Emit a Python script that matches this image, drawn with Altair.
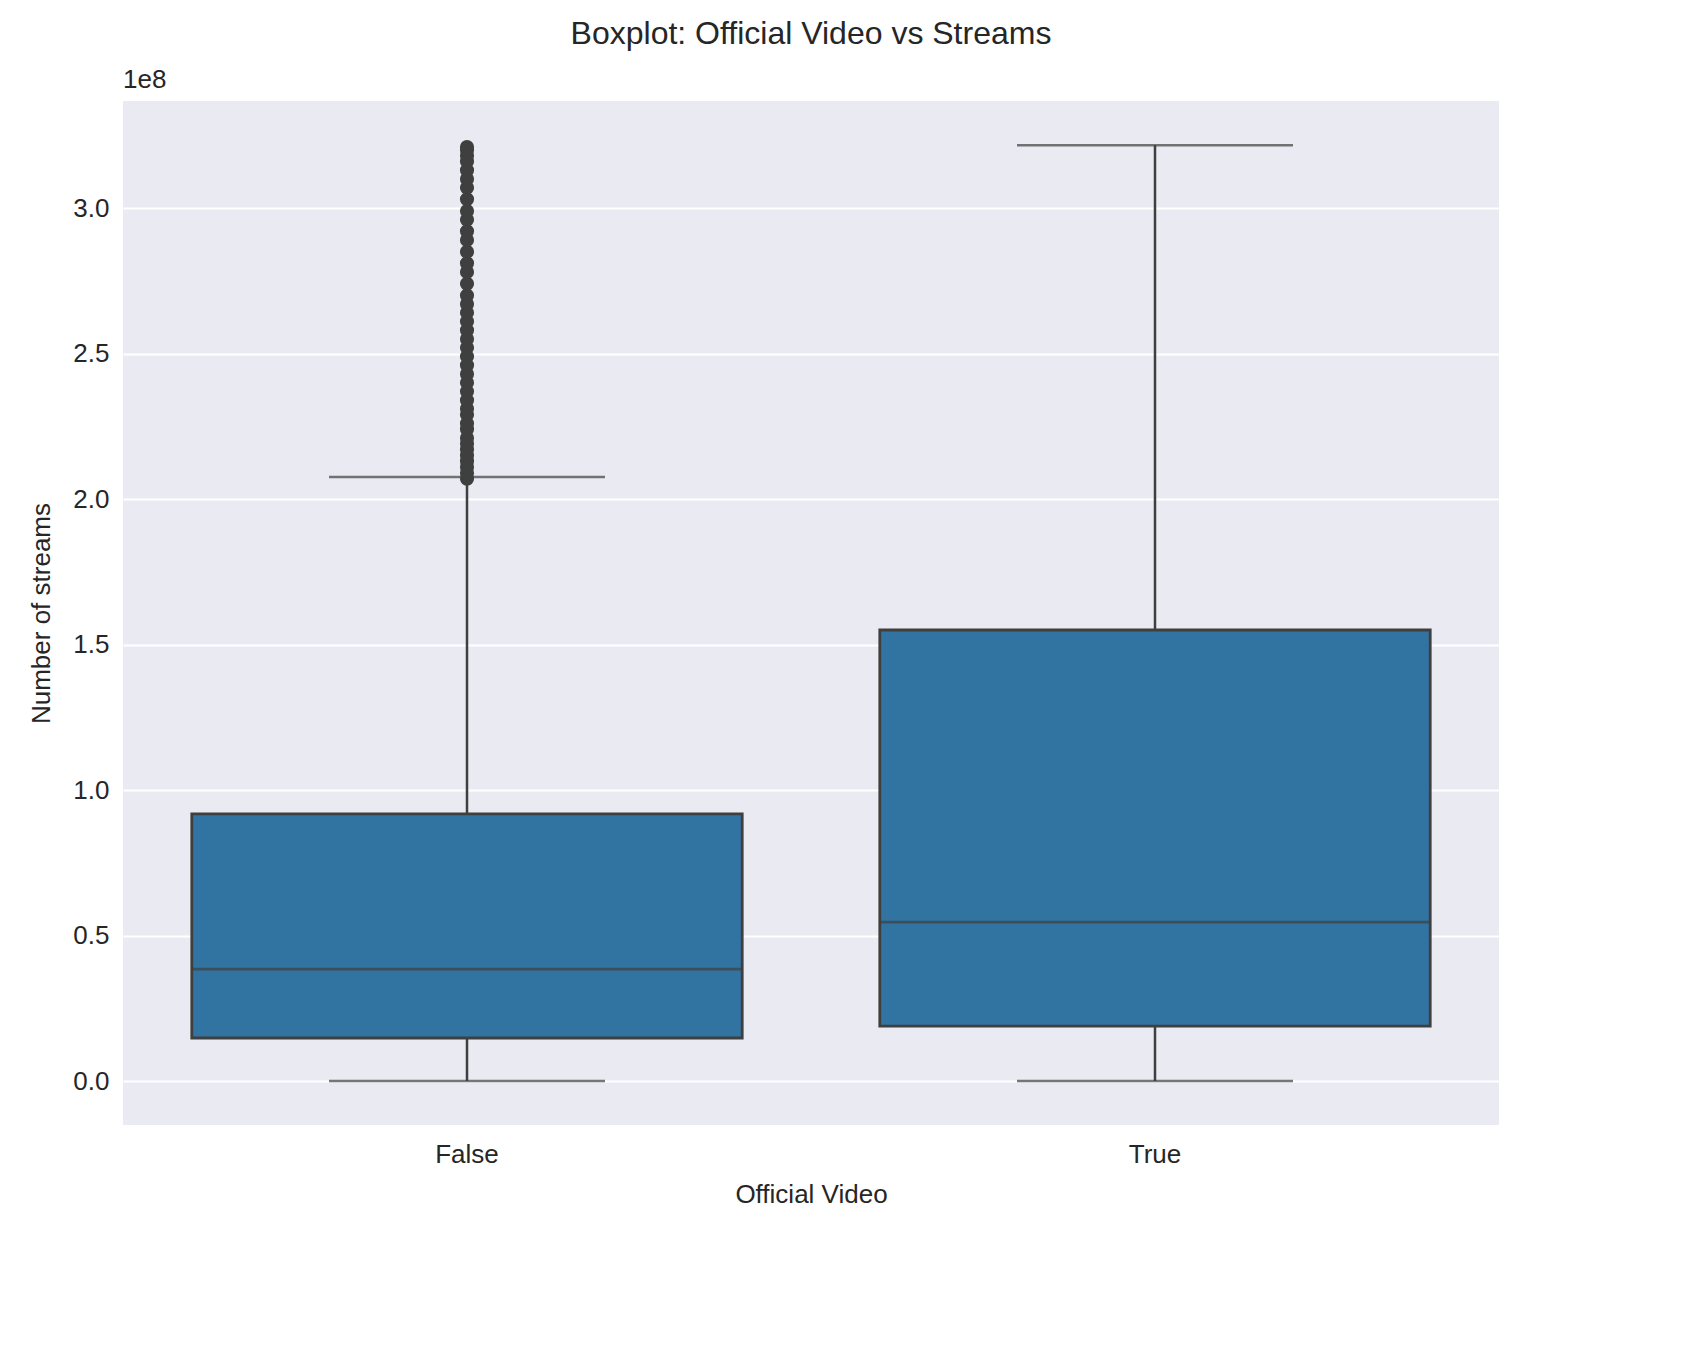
import pandas as pd
import altair as alt

# values in units of 1e8 streams
groups = ['False', 'True']
lower = [0.0, 0.0]
q1 = [0.148, 0.189]
median = [0.385, 0.546]
q3 = [0.918, 1.55]
upper = [2.076, 3.216]

outliers_false = [2.07, 2.09, 2.11, 2.13, 2.15, 2.17, 2.19, 2.21, 2.24, 2.26, 2.29, 2.31,
                  2.34, 2.37, 2.40, 2.43, 2.46, 2.49, 2.52, 2.55, 2.58, 2.61, 2.64, 2.67,
                  2.70, 2.74, 2.78, 2.81, 2.85, 2.89, 2.92, 2.96, 2.99, 3.03, 3.07, 3.10,
                  3.13, 3.16, 3.18, 3.20, 3.21]

box = pd.DataFrame({'group': groups, 'lower': lower, 'q1': q1, 'median': median,
                    'q3': q3, 'upper': upper})
out = pd.DataFrame({'group': 'False', 'value': outliers_false})

font = 'Liberation Sans'
dark = '#3f3f3f'
x = alt.X('group:N', sort=groups, title='Official Video',
          scale=alt.Scale(paddingInner=0, paddingOuter=0),
          axis=alt.Axis(labelAngle=0, labelFontSize=26, titleFontSize=26, labelColor='#262626',
                        titleColor='#262626', ticks=False, domain=False, grid=False,
                        labelPadding=16, titlePadding=14, labelFont=font, titleFont=font,
                        titleFontWeight='normal'))
yscale = alt.Scale(domain=[-0.151, 3.368], nice=False, zero=False)
yaxis = alt.Axis(values=[0, 0.5, 1.0, 1.5, 2.0, 2.5, 3.0], format='.1f', labelFontSize=26,
                 titleFontSize=26, labelColor='#262626', titleColor='#262626', ticks=False,
                 domain=False, gridColor='white', gridWidth=2, labelPadding=14,
                 titlePadding=18, labelFont=font, titleFont=font, titleFontWeight='normal')

base = alt.Chart(box)
whisk = base.mark_rule(color=dark, strokeWidth=2.5).encode(
    x=x, y=alt.Y('lower:Q', scale=yscale, axis=yaxis, title='Number of streams'),
    y2='upper:Q')
bars = base.mark_bar(width={'band': 0.8}, color='#3274a1', stroke=dark, strokeWidth=2.8).encode(
    x=x, y='q1:Q', y2='q3:Q')
med = base.mark_tick(color=dark, size=552, thickness=2.8).encode(x=x, y='median:Q')
cap_lo = base.mark_tick(color=dark, size=276, thickness=2.5).encode(x=x, y='lower:Q')
cap_hi = base.mark_tick(color=dark, size=276, thickness=2.5).encode(x=x, y='upper:Q')
pts = alt.Chart(out).mark_circle(size=200, color=dark, opacity=1).encode(x=x, y='value:Q')
exp = alt.Chart(pd.DataFrame({'t': ['1e8']})).mark_text(
    fontSize=26, font=font, color='#262626', align='left', baseline='bottom').encode(
    x=alt.value(0), y=alt.value(-8), text='t:N')

chart = alt.layer(whisk, bars, med, cap_lo, cap_hi, pts, exp).properties(
    width=1376, height=1024,
    padding={'left': 20, 'top': 10, 'right': 10, 'bottom': 10},
    title=alt.TitleParams('Boxplot: Official Video vs Streams', fontSize=32, font=font,
                          fontWeight='normal', color='#262626', offset=16)
).configure_view(fill='#eaeaf2', stroke=None)

chart.save("out.html", embed_options={"renderer": "svg", "actions": False})
